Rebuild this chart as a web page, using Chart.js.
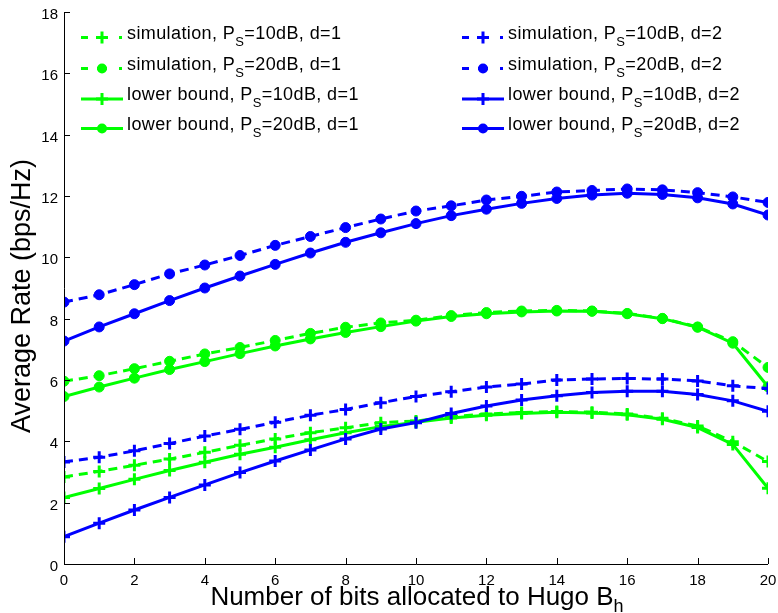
<!DOCTYPE html>
<html lang="en">
<head>
  <meta charset="UTF-8">
  <title>Average Rate vs bits allocated to Hugo</title>
  <script src="https://cdn.jsdelivr.net/npm/chart.js"></script>
  <style>
    html, body { margin: 0; padding: 0; background: #fff; }
    #wrap { width: 778px; height: 613px; position: relative; }
  </style>
</head>
<body>
<div id="wrap"><canvas id="rateChart"></canvas></div>
<script>
  // x values: number of bits allocated to Hugo
  const bits = [0, 1, 2, 3, 4, 5, 6, 7, 8, 9, 10, 11, 12, 13, 14, 15, 16, 17, 18, 19, 20];

  // d=1 (green)
  const sim10d1 = [2.84, 3.02, 3.22, 3.42, 3.64, 3.87, 4.08, 4.28, 4.44, 4.61, 4.66, 4.80, 4.89, 4.94, 4.97, 4.95, 4.89, 4.75, 4.50, 3.99, 3.34];
  const sim20d1 = [5.96, 6.14, 6.37, 6.61, 6.85, 7.06, 7.29, 7.52, 7.72, 7.86, 7.95, 8.10, 8.20, 8.25, 8.27, 8.25, 8.17, 8.01, 7.73, 7.25, 6.41];
  const lb10d1  = [2.17, 2.46, 2.76, 3.05, 3.32, 3.58, 3.81, 4.05, 4.28, 4.48, 4.62, 4.76, 4.85, 4.91, 4.95, 4.92, 4.87, 4.72, 4.45, 3.90, 2.47];
  const lb20d1  = [5.46, 5.77, 6.06, 6.34, 6.60, 6.86, 7.11, 7.34, 7.55, 7.74, 7.92, 8.07, 8.16, 8.22, 8.25, 8.24, 8.16, 8.00, 7.72, 7.20, 5.78];

  // d=2 (blue)
  const sim10d2 = [3.33, 3.48, 3.69, 3.93, 4.17, 4.39, 4.62, 4.85, 5.04, 5.26, 5.46, 5.62, 5.77, 5.87, 6.00, 6.03, 6.05, 6.03, 5.97, 5.81, 5.72];
  const sim20d2 = [8.54, 8.78, 9.11, 9.46, 9.75, 10.06, 10.39, 10.68, 10.97, 11.25, 11.51, 11.68, 11.87, 11.99, 12.13, 12.18, 12.23, 12.20, 12.11, 11.97, 11.79];
  const lb10d2  = [0.89, 1.33, 1.76, 2.17, 2.58, 2.98, 3.36, 3.72, 4.08, 4.40, 4.61, 4.91, 5.15, 5.35, 5.49, 5.59, 5.63, 5.63, 5.53, 5.32, 4.98];
  const lb20d2  = [7.27, 7.73, 8.16, 8.59, 9.00, 9.39, 9.77, 10.14, 10.49, 10.80, 11.10, 11.36, 11.57, 11.76, 11.92, 12.03, 12.09, 12.05, 11.94, 11.74, 11.38];

  const xTicks = [0, 2, 4, 6, 8, 10, 12, 14, 16, 18, 20];
  const yTicks = [0, 2, 4, 6, 8, 10, 12, 14, 16, 18];

  const GREEN = '#00ff00';
  const BLUE = '#0000ff';
  const FONT = "'Liberation Sans', Arial, Helvetica, sans-serif";
  const DASH = [9, 6];

  // legend entries: [prefix, subscript, suffix]
  const legendItems = [
    { text: ['simulation, P', 'S', '=10dB, d=1'], color: GREEN, dashed: true, marker: 'cross' },
    { text: ['simulation, P', 'S', '=20dB, d=1'], color: GREEN, dashed: true, marker: 'circle' },
    { text: ['lower bound, P', 'S', '=10dB, d=1'], color: GREEN, dashed: false, marker: 'cross' },
    { text: ['lower bound, P', 'S', '=20dB, d=1'], color: GREEN, dashed: false, marker: 'circle' },
    { text: ['simulation, P', 'S', '=10dB, d=2'], color: BLUE, dashed: true, marker: 'cross' },
    { text: ['simulation, P', 'S', '=20dB, d=2'], color: BLUE, dashed: true, marker: 'circle' },
    { text: ['lower bound, P', 'S', '=10dB, d=2'], color: BLUE, dashed: false, marker: 'cross' },
    { text: ['lower bound, P', 'S', '=20dB, d=2'], color: BLUE, dashed: false, marker: 'circle' },
  ];

  function makeSet(values, color, dashed, marker) {
    return {
      data: bits.map((b, i) => ({ x: b, y: values[i] })),
      borderColor: color,
      backgroundColor: color,
      borderWidth: 3,
      borderDash: dashed ? DASH : [],
      pointStyle: marker,
      pointRadius: marker === 'cross' ? 6 : 5,
      pointBorderWidth: marker === 'cross' ? 3 : 1,
      pointBackgroundColor: color,
      pointBorderColor: color,
      tension: 0,
      fill: false,
    };
  }

  // legend marker
  function drawMarker(ctx, marker, x, y, color) {
    ctx.save();
    ctx.setLineDash([]);
    ctx.strokeStyle = color;
    ctx.fillStyle = color;
    if (marker === 'cross') {
      ctx.lineWidth = 3;
      ctx.beginPath();
      ctx.moveTo(x - 6, y); ctx.lineTo(x + 6, y);
      ctx.moveTo(x, y - 6); ctx.lineTo(x, y + 6);
      ctx.stroke();
    } else {
      ctx.beginPath();
      ctx.arc(x, y, 5, 0, Math.PI * 2);
      ctx.fill();
    }
    ctx.restore();
  }

  function drawSubText(ctx, parts, x, y, size, subSize, subDrop) {
    ctx.font = size + 'px ' + FONT;
    ctx.fillText(parts[0], x, y);
    x += ctx.measureText(parts[0]).width;
    ctx.font = subSize + 'px ' + FONT;
    ctx.fillText(parts[1], x, y + subDrop);
    x += ctx.measureText(parts[1]).width;
    if (parts[2]) {
      ctx.font = size + 'px ' + FONT;
      ctx.fillText(parts[2], x, y);
    }
  }

  const matlabAxes = {
    id: 'matlabAxes',
    afterDraw(chart) {
      const ctx = chart.ctx;
      const area = chart.chartArea;
      const xs = chart.scales.x, ys = chart.scales.y;
      ctx.save();
      ctx.strokeStyle = '#000';
      ctx.lineWidth = 1;
      ctx.setLineDash([]);
      ctx.beginPath();
      ctx.moveTo(area.left + 0.5, area.top);
      ctx.lineTo(area.left + 0.5, area.bottom + 0.5);
      ctx.lineTo(area.right, area.bottom + 0.5);
      ctx.stroke();
      // inward ticks
      ctx.beginPath();
      yTicks.forEach(v => {
        const py = Math.round(ys.getPixelForValue(v)) + 0.5;
        ctx.moveTo(area.left, py); ctx.lineTo(area.left + 6, py);
      });
      xTicks.forEach(v => {
        const px = Math.round(xs.getPixelForValue(v)) + 0.5;
        ctx.moveTo(px, area.bottom); ctx.lineTo(px, area.bottom - 6);
      });
      ctx.stroke();

      // axis titles
      ctx.fillStyle = '#000';
      ctx.textBaseline = 'alphabetic';
      ctx.textAlign = 'left';
      const xParts = ['Number of bits allocated to Hugo B', 'h', ''];
      ctx.font = '26px ' + FONT;
      let w = ctx.measureText(xParts[0]).width;
      ctx.font = '18px ' + FONT;
      w += ctx.measureText(xParts[1]).width;
      drawSubText(ctx, xParts, 417 - w / 2, 605, 26, 18, 7);

      ctx.save();
      ctx.translate(30, 296);
      ctx.rotate(-Math.PI / 2);
      ctx.textAlign = 'center';
      ctx.font = '27px ' + FONT;
      ctx.fillText('Average Rate (bps/Hz)', 0, 0);
      ctx.restore();

      // legend
      const cols = [81, 462];
      const rows = [37.5, 68.5, 99, 128.5];
      legendItems.forEach((it, i) => {
        const lx = cols[Math.floor(i / 4)];
        const ly = rows[i % 4];
        ctx.save();
        ctx.strokeStyle = it.color;
        ctx.lineWidth = 3;
        ctx.beginPath();
        if (it.dashed) {
          ctx.moveTo(lx, ly); ctx.lineTo(lx + 7, ly);
          ctx.moveTo(lx + 16, ly); ctx.lineTo(lx + 26, ly);
          ctx.moveTo(lx + 38, ly); ctx.lineTo(lx + 41, ly);
        } else {
          ctx.moveTo(lx, ly); ctx.lineTo(lx + 42, ly);
        }
        ctx.stroke();
        ctx.restore();
        drawMarker(ctx, it.marker, lx + 21, ly, it.color);
        ctx.fillStyle = '#000';
        ctx.textAlign = 'left';
        ctx.letterSpacing = '0.4px';
        drawSubText(ctx, it.text, lx + 46, ly + 1, 18, 13, 7);
        ctx.letterSpacing = '0px';
      });
      ctx.restore();
    }
  };

  const ctx = document.getElementById('rateChart').getContext('2d');
  const rateChart = new Chart(ctx, {
    type: 'line',
    data: {
      datasets: [
        makeSet(sim10d2, BLUE, true, 'cross'),
        makeSet(sim20d2, BLUE, true, 'circle'),
        makeSet(lb10d2, BLUE, false, 'cross'),
        makeSet(lb20d2, BLUE, false, 'circle'),
        makeSet(sim10d1, GREEN, true, 'cross'),
        makeSet(sim20d1, GREEN, true, 'circle'),
        makeSet(lb10d1, GREEN, false, 'cross'),
        makeSet(lb20d1, GREEN, false, 'circle'),
      ],
    },
    options: {
      responsive: true,
      maintainAspectRatio: false,
      animation: false,
      layout: { padding: { top: 12, right: 10, left: 0, bottom: 0 } },
      plugins: { legend: { display: false }, tooltip: { enabled: false } },
      scales: {
        x: {
          type: 'linear',
          min: 0,
          max: 20,
          afterBuildTicks: (scale) => { scale.ticks = xTicks.map(v => ({ value: v })); },
          ticks: { color: '#000', font: { family: FONT, size: 15 }, padding: 8, maxRotation: 0 },
          grid: { display: false, drawTicks: false },
          border: { display: false },
          afterFit: (scale) => {
            scale.height = 49;
            scale.paddingLeft = 0; scale.paddingRight = 0;
            scale.paddingTop = 0; scale.paddingBottom = 0;
          },
        },
        y: {
          min: 0,
          max: 18,
          afterBuildTicks: (scale) => { scale.ticks = yTicks.map(v => ({ value: v })); },
          ticks: { color: '#000', font: { family: FONT, size: 15 }, padding: 6, labelOffset: 3 },
          grid: { display: false, drawTicks: false },
          border: { display: false },
          afterFit: (scale) => {
            scale.width = 64;
            scale.paddingLeft = 0; scale.paddingRight = 0;
            scale.paddingTop = 0; scale.paddingBottom = 0;
          },
        },
      },
    },
    plugins: [matlabAxes],
  });
</script>
</body>
</html>
